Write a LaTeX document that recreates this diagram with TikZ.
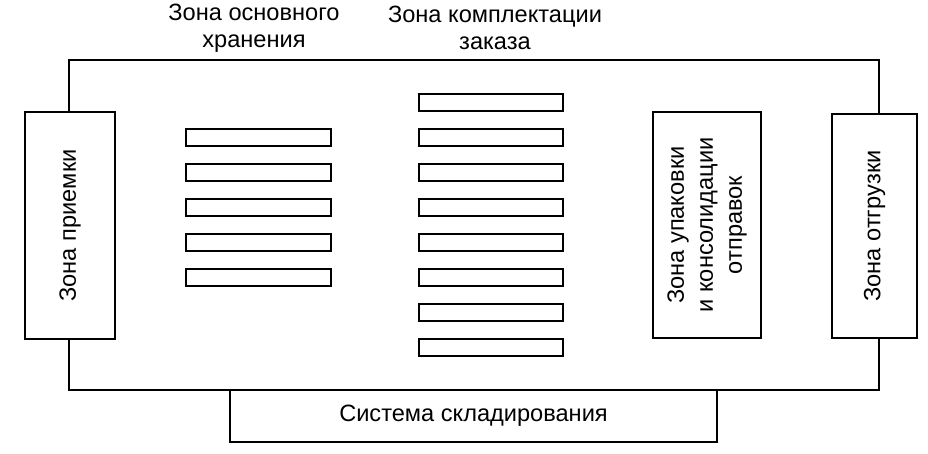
\documentclass[tikz,border=0pt]{standalone}
\usepackage{fontspec}
\setmainfont{Liberation Sans}
\begin{document}
\begin{tikzpicture}[x=0.5pt,y=-0.5pt,
  zone/.style={draw,fill=white,line width=0.8pt,inner sep=0pt,align=center,
    font=\fontsize{11.8}{14.5}\selectfont},
  rack/.style={draw,line width=0.8pt,inner sep=0pt,minimum height=8.5pt},
  lbl/.style={align=center,font=\fontsize{11.8}{13.5}\selectfont}]
\useasboundingbox (0,0) rectangle (928,454);
% Warehouse frame
\draw[line width=0.8pt] (69,60) rectangle (879,390);
% Zones
\node[zone,rotate=90,minimum width=113.5pt,minimum height=45pt] (recv) at (70,225.5) {Зона приемки};
\node[zone,rotate=90,minimum width=113pt,minimum height=54pt] (pack) at (707,225) {Зона упаковки\\и консолидации\\отправок};
\node[zone,rotate=90,minimum width=112pt,minimum height=42.5pt] (ship) at (874.5,226) {Зона отгрузки};
\node[zone,minimum width=243.5pt,minimum height=26pt] (sys) at (473.5,416) {Система складирования};
% Racks
\foreach \i in {1,...,5} {\node[rack,minimum width=72.5pt] (store\i) at (258.5,{137.5+35*(\i-1)}) {};}
\foreach \i in {1,...,8} {\node[rack,minimum width=72pt] (pick\i) at (491,{102.5+35*(\i-1)}) {};}
% Labels
\node[lbl] (storelbl) at (254,28) {Зона основного\\хранения};
\node[lbl] (picklbl) at (495,28) {Зона комплектации\\заказа};
\end{tikzpicture}
\end{document}
